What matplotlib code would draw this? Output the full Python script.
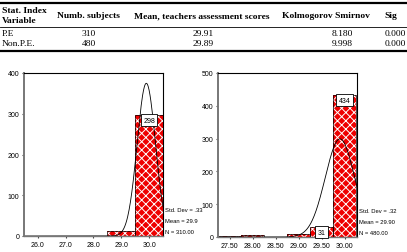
import matplotlib
matplotlib.use("Agg")
import matplotlib.pyplot as plt
import numpy as np
from matplotlib.lines import Line2D

# table data
headers = ["Numb. subjects", "Mean, teachers assessment scores", "Kolmogorov Smirnov", "Sig"]
groups = ["P.E", "Non.P.E."]
n_subjects = ["310", "480"]
means_txt = ["29.91", "29.89"]
ks_txt = ["8.180", "9.998"]
sig_txt = ["0.000", "0.000"]

# histogram data
pe_bins = [29.0, 30.0]
pe_counts = [12, 298]
pe_mean, pe_sd, pe_n = 29.9, 0.33, 310

npe_bins = [27.5, 28.0, 28.5, 29.0, 29.5, 30.0]
npe_counts = [2, 5, 0, 8, 31, 434]
npe_mean, npe_sd, npe_n = 29.90, 0.32, 480

W, H = 407, 253
plt.rcParams['hatch.linewidth'] = 0.7
fig = plt.figure(figsize=(W / 100, H / 100), dpi=100)

def fx(x):
    return x / W

def fy(y):
    return 1 - y / H

# ---- table ----
for y, lw in [(4, 1.6), (28, 0.6), (52, 1.6)]:
    fig.add_artist(Line2D([0, 1], [fy(y), fy(y)], color="black", lw=lw))

serif = "Liberation Serif"
fig.text(fx(2), fy(11), "Stat. Index", fontsize=6.8, fontweight="bold", family=serif, va="center")
fig.text(fx(2), fy(21), "Variable", fontsize=6.8, fontweight="bold", family=serif, va="center")
head_x = [88, 202, 326, 391]
for hx, h in zip(head_x, headers):
    fig.text(fx(hx), fy(16), h, fontsize=6.8, fontweight="bold", family=serif, ha="center", va="center")

for i, g in enumerate(groups):
    ry = 34 + i * 10.5
    fig.text(fx(2), fy(ry), g, fontsize=6.8, family=serif, va="center")
    fig.text(fx(89), fy(ry), n_subjects[i], fontsize=6.8, family=serif, ha="center", va="center")
    fig.text(fx(203), fy(ry), means_txt[i], fontsize=6.8, family=serif, ha="center", va="center")
    fig.text(fx(342), fy(ry), ks_txt[i], fontsize=6.8, family=serif, ha="center", va="center")
    fig.text(fx(406), fy(ry), sig_txt[i], fontsize=6.8, family=serif, ha="right", va="center")

# ---- histograms ----
sans = "Liberation Sans"

def hist_panel(rect, bins, counts, width, mean, sd, n, xlim, ylim, yticks, xfmt, labels, stats):
    ax = fig.add_axes(rect)
    ax.bar(bins, counts, width=width, color="#ee0000", edgecolor="none")
    ax.bar(bins, counts, width=width, fill=False, hatch="xxxx", edgecolor="white", lw=0)
    ax.bar(bins, counts, width=width, fill=False, edgecolor="black", lw=0.5)
    xs = np.linspace(xlim[0], xlim[1], 300)
    ys = n * width / (sd * np.sqrt(2 * np.pi)) * np.exp(-0.5 * ((xs - mean) / sd) ** 2)
    ax.plot(xs, ys, color="black", lw=0.6)
    ax.set_xlim(xlim)
    ax.set_ylim(ylim)
    ax.set_xticks(bins if len(bins) > 2 else [26.0, 27.0, 28.0, 29.0, 30.0])
    ax.set_xticklabels([xfmt % v for v in ax.get_xticks()])
    ax.set_yticks(yticks)
    ax.tick_params(labelsize=5, length=1.5, width=0.8, pad=2, colors="#444444", labelcolor="black")
    for lab in ax.get_xticklabels() + ax.get_yticklabels():
        lab.set_family(sans)
    ax.spines["left"].set_color("#777777")
    ax.spines["left"].set_linewidth(1.4)
    ax.spines["bottom"].set_color("#777777")
    ax.spines["bottom"].set_linewidth(1.0)
    for s in ["top", "right"]:
        ax.spines[s].set_linewidth(0.8)
    for bx, val in labels:
        ax.text(bx, val - ylim[1] * 0.012, str(val), ha="center", va="top", fontsize=5, family=sans,
                bbox=dict(boxstyle="square,pad=0.35", fc="white", ec="black", lw=0.6))
    for k, s in enumerate(stats):
        ax.text(1.015, 0.16 - k * 0.065, s, transform=ax.transAxes, fontsize=4.2, family=sans, va="center")
    return ax

hist_panel([fx(24), fy(237), fx(139), 163 / H], pe_bins, pe_counts, 1.0,
           pe_mean, pe_sd, pe_n, (25.5, 30.5), (0, 400), [0, 100, 200, 300, 400], "%.1f",
           [(30.0, 298)], ["Std. Dev = .33", "Mean = 29.9", "N = 310.00"])

hist_panel([fx(218), fy(238), fx(139), 164 / H], npe_bins, npe_counts, 0.5,
           npe_mean, npe_sd, npe_n, (27.25, 30.27), (0, 500), [0, 100, 200, 300, 400, 500], "%.2f",
           [(29.5, 31), (30.0, 434)], ["Std. Dev = .32", "Mean = 29.90", "N = 480.00"])

fig.savefig("out.png", dpi=100)
